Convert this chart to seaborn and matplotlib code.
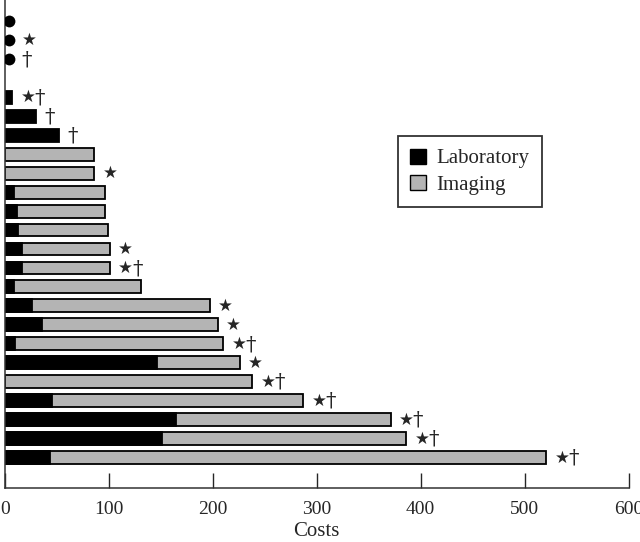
import numpy as np
import pandas as pd
import matplotlib
matplotlib.use("Agg")
import matplotlib.pyplot as plt
from matplotlib.patches import Patch
import seaborn as sns

# one row per case, top to bottom; first three cases cost nothing (dots), fourth is empty
cases = [f"case{i}" for i in range(1, 25)]
dot_cases = ["case1", "case2", "case3"]
dot_costs = [4, 4, 4]
bar_cases = cases[4:]
laboratory = [7, 30, 52, 0, 0, 9, 12, 13, 16, 16, 9, 26, 36, 10, 146, 0, 45, 165, 151, 43]
imaging = [0, 0, 0, 86, 86, 87, 84, 86, 85, 85, 122, 171, 169, 200, 80, 238, 242, 206, 235, 478]
marks = ["", "★", "†", "",
         "★†", "†", "†", "", "★", "", "", "", "★", "★†",
         "", "★", "★", "★†", "★", "★†", "★†", "★†", "★†", "★†"]
x_ticks = [0, 100, 200, 300, 400, 500, 600]

GRAY = "#b4b4b4"

df = pd.DataFrame({"case": bar_cases, "lab": laboratory, "img": imaging})
df["total"] = df["lab"] + df["img"]
imaging_rows = df[df["img"] > 0]
lab_rows = df[df["lab"] > 0]

sns.set_style("ticks")
plt.rcParams["font.family"] = ["Liberation Serif", "DejaVu Sans"]

fig = plt.figure(figsize=(6.4, 5.42), dpi=100)
ax = fig.add_axes([0.0077, 0.099, 0.9744, 0.901])

# stacked bars: total (imaging on top of lab) then lab over it
sns.barplot(data=imaging_rows, x="total", y="case", order=cases, orient="h",
            color=GRAY, edgecolor="black", linewidth=1.3, width=0.68,
            errorbar=None, saturation=1, ax=ax)
sns.barplot(data=lab_rows, x="lab", y="case", order=cases, orient="h",
            color="black", edgecolor="black", linewidth=1.3, width=0.68,
            errorbar=None, saturation=1, ax=ax)
sns.stripplot(x=dot_costs, y=dot_cases, order=cases, orient="h", jitter=False,
              color="black", size=8.5, ax=ax)

# significance marks after each bar / dot
ends = dict(zip(dot_cases, dot_costs))
ends.update(dict(zip(df["case"], df["total"])))
for i, (case, mark) in enumerate(zip(cases, marks)):
    if not mark:
        continue
    off = 9 if case in dot_cases else 6
    for ch in mark:
        if ch == "★":
            ax.annotate(ch, xy=(ends[case], i), xytext=(off, 0), textcoords="offset points",
                        ha="left", va="center", fontsize=12, family="DejaVu Sans")
            off += 10
        else:
            ax.annotate(ch, xy=(ends[case], i), xytext=(off, -0.5), textcoords="offset points",
                        ha="left", va="center", fontsize=15,
                        family=["DejaVu Serif", "DejaVu Sans"])

ax.set_xlim(0, 600)
ax.set_ylim(24.62, -1.13)
ax.set_xticks(x_ticks)
ax.set_yticks([])
ax.set_ylabel("")
ax.set_xlabel("Costs", fontsize=15, labelpad=3)
ax.tick_params(axis="x", direction="in", length=11, width=1, pad=9, labelsize=14)
sns.despine(ax=ax, top=True, right=True)
for s in ["left", "bottom"]:
    ax.spines[s].set_linewidth(1.1)
    ax.spines[s].set_color("#333333")

handles = [Patch(facecolor="black", edgecolor="black", label="Laboratory"),
           Patch(facecolor=GRAY, edgecolor="black", label="Imaging")]
leg = ax.legend(handles=handles, loc="upper left", bbox_to_anchor=(0.630, 0.7215),
                borderaxespad=0, fontsize=15, frameon=True, fancybox=False,
                handlelength=0.75, handleheight=0.75, handletextpad=0.5,
                borderpad=0.6, labelspacing=0.3)
leg.get_frame().set_edgecolor("black")
leg.get_frame().set_linewidth(1.3)

fig.savefig("out.png", dpi=100)
